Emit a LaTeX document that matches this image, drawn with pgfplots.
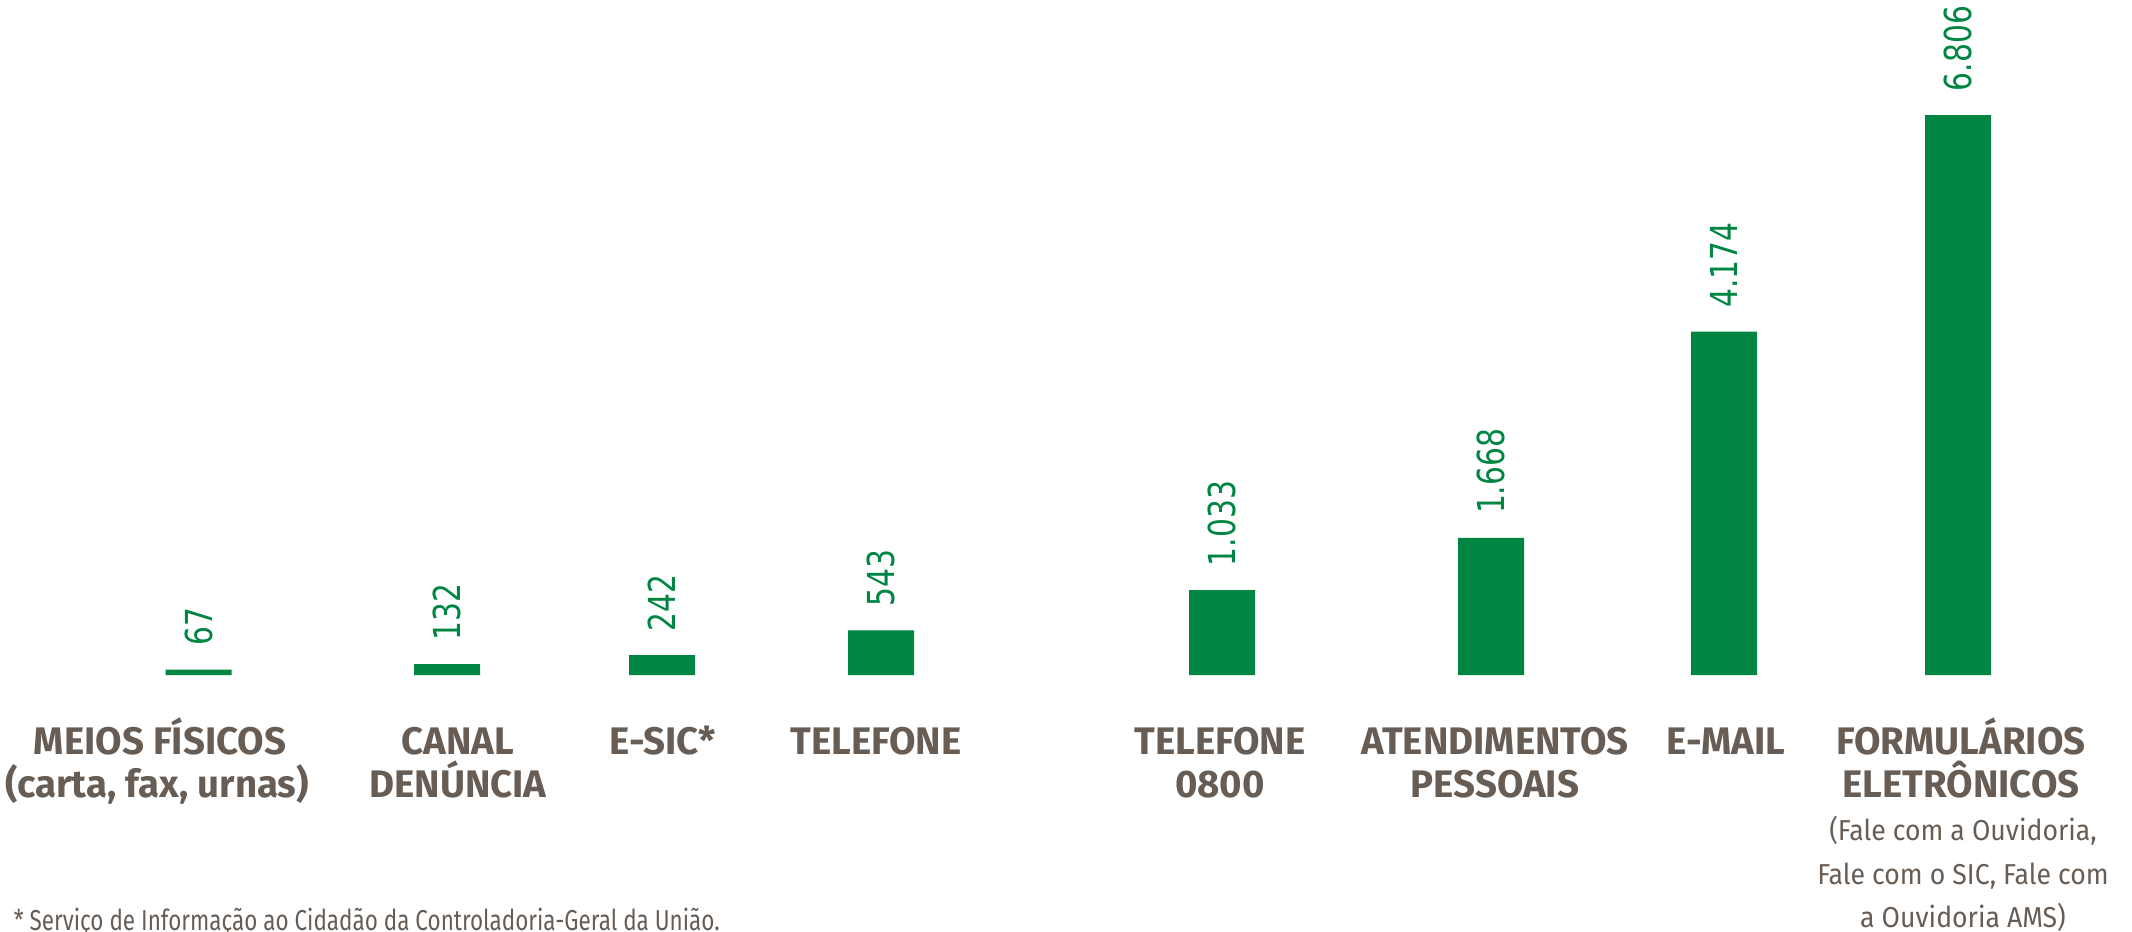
\documentclass[border=0pt]{standalone}
\usepackage{fontspec}
\usepackage{pgfplots}
\pgfplotsset{compat=1.18}
\setmainfont{Fira Sans}
\newfontfamily\valfont[FakeStretch=0.80]{DejaVu Sans}
\newfontfamily\catfont{Fira Sans}
\newfontfamily\subfont[FakeStretch=0.925]{Fira Sans}
\newfontfamily\notefont[FakeStretch=0.78]{Fira Sans}
\definecolor{bargreen}{RGB}{0,133,66}
\definecolor{txt}{RGB}{104,93,84}
\begin{document}
\begin{tikzpicture}
\begin{axis}[
  width=533pt, height=233pt, scale only axis,
  xmin=0, xmax=2132, ymin=-3123, ymax=8204,
  hide axis, clip=false,
  ybar, bar width=66,
  nodes near coords, point meta=explicit symbolic,
  every node near coord/.append style={rotate=90, anchor=west, inner xsep=5.75pt, inner ysep=0pt,
     font=\valfont\fontsize{9.3}{10}\selectfont, text=bargreen},
]
\addplot[fill=bargreen, draw=none] coordinates {
 (198.5,67) [67]
 (447,132) [132]
 (662,242) [242]
 (881,543) [543]
 (1222,1033) [1.033]
 (1491,1668) [1.668]
 (1724,4174) [4.174]
 (1958,6806) [6.806]
};
\coordinate (SW) at (rel axis cs:0,0);
\coordinate (NE) at (rel axis cs:1,1);
\begin{scope}[every node/.style={anchor=base, inner sep=0pt, text=txt, font=\catfont\bfseries\fontsize{9.6}{11}\selectfont}]
\node at (axis cs:160,-960) {MEIOS FÍSICOS};
\node at (axis cs:157,-1483) {(carta, fax, urnas)};
\node at (axis cs:458,-960) {CANAL};
\node at (axis cs:458,-1483) {DENÚNCIA};
\node at (axis cs:663,-960) {E-SIC*};
\node at (axis cs:876,-960) {TELEFONE};
\node at (axis cs:1220,-960) {TELEFONE};
\node at (axis cs:1220,-1483) {0800};
\node at (axis cs:1495,-960) {ATENDIMENTOS};
\node at (axis cs:1495,-1483) {PESSOAIS};
\node at (axis cs:1726,-960) {E-MAIL};
\node at (axis cs:1961,-960) {FORMULÁRIOS};
\node at (axis cs:1961,-1483) {ELETRÔNICOS};
\end{scope}
\begin{scope}[every node/.style={anchor=base, inner sep=0pt, text=txt, font=\subfont\fontsize{7.2}{9}\selectfont}]
\node at (axis cs:1963,-2005) {(Fale com a Ouvidoria,};
\node at (axis cs:1963,-2540) {Fale com o SIC, Fale com};
\node at (axis cs:1963,-3063) {a Ouvidoria AMS)};
\end{scope}
\node[anchor=base west, inner sep=0pt, text=txt, font=\notefont\fontsize{7.2}{9}\selectfont] at (axis cs:13,-3099) {* Serviço de Informação ao Cidadão da Controladoria-Geral da União.};
\end{axis}
\pgfresetboundingbox
\useasboundingbox (SW) rectangle (NE);
\end{tikzpicture}
\end{document}
